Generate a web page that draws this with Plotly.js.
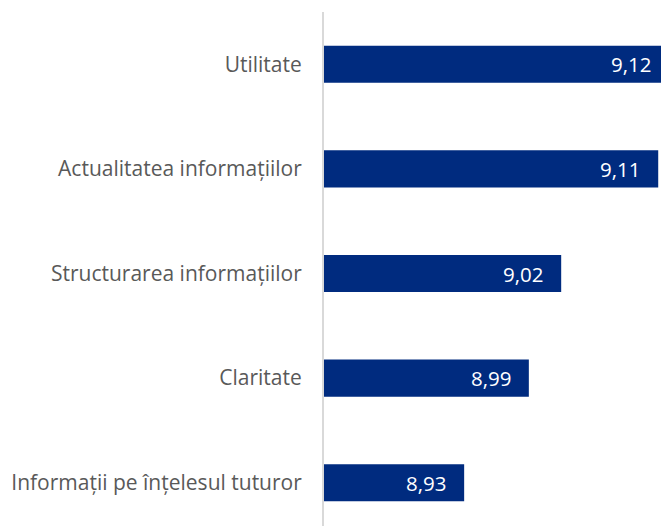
<!DOCTYPE html>
<html>
<head>
<meta charset="utf-8">
<script src="https://cdn.plot.ly/plotly-3.0.1.min.js"></script>
<style>
html,body{margin:0;padding:0;overflow:hidden;background:#fff;}
#chart{width:669px;height:535px;}
</style>
</head>
<body>
<div id="chart"></div>
<script>
const categories = ["Utilitate", "Actualitatea informațiilor", "Structurarea informațiilor", "Claritate", "Informații pe înțelesul tuturor"];
const values = [9.12, 9.11, 9.02, 8.99, 8.93];
const axisMin = 8.8;
const axisMax = 9.12;

const fontFamily = "Open Sans, sans-serif";

const trace = {
  type: "bar",
  orientation: "h",
  x: values,
  y: categories,
  marker: {color: "#002B7F"},
  hoverinfo: "skip",
  textposition: "none"
};

const annotations = categories.map((c, i) => ({
  x: values[i],
  y: c,
  xref: "x",
  yref: "y",
  text: values[i].toFixed(2).replace(".", ","),
  showarrow: false,
  xanchor: "right",
  yanchor: "middle",
  xshift: -17,
  borderpad: 0,
  font: {family: fontFamily, size: 20.5, color: "#ffffff"}
}));

const layout = {
  width: 669,
  height: 535,
  margin: {l: 324, r: 0, t: 12, b: 0},
  paper_bgcolor: "#ffffff",
  plot_bgcolor: "#ffffff",
  bargap: 0.645,
  showlegend: false,
  xaxis: {
    range: [axisMin, axisMax],
    showgrid: false,
    zeroline: false,
    showticklabels: false,
    showline: false,
    ticks: ""
  },
  yaxis: {
    type: "category",
    autorange: "reversed",
    showgrid: false,
    zeroline: false,
    showline: true,
    linecolor: "#D9D9D9",
    linewidth: 2,
    ticks: "",
    ticklabelstandoff: 16,
    tickfont: {family: fontFamily, size: 21, color: "#595959"}
  },
  annotations: annotations
};

Plotly.newPlot("chart", [trace], layout, {displayModeBar: false, staticPlot: true});
</script>
</body>
</html>
